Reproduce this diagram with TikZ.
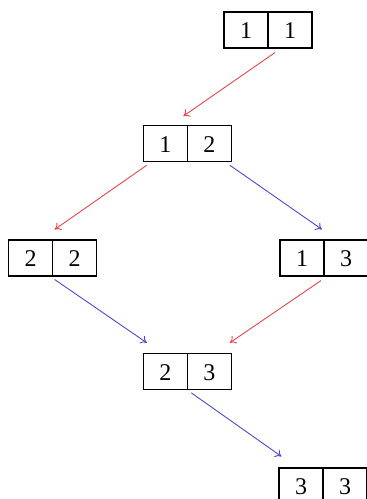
\documentclass[tikz,border=0pt]{standalone}
\usepackage{fontspec}
\setmainfont{Liberation Serif}
\usetikzlibrary{calc,arrows.meta}
\definecolor{myred}{RGB}{225,70,80}
\definecolor{myblue}{RGB}{75,75,205}
\tikzset{
  pairbox/.style={draw, line width=0.55pt, minimum width=44pt, minimum height=18pt, inner sep=0pt,
    path picture={\draw[line width=0.55pt] (path picture bounding box.north) -- (path picture bounding box.south);}},
  cellL/.style={font=\fontsize{12}{14}\selectfont},
  redarr/.style={draw=myred, line width=0.45pt, -{To[length=3pt,width=4.5pt]}},
  bluearr/.style={draw=myblue, line width=0.45pt, -{To[length=3pt,width=4.5pt]}}
}
\newcommand{\pairnode}[4]{%
  \node[pairbox] (#1) at (#2) {};
  \node[cellL] at ($(#1.center)+(-22,1)$) {#3};
  \node[cellL] at ($(#1.center)+(22,1)$) {#4};
}
\begin{document}
\begin{tikzpicture}[x=0.5pt,y=-0.5pt]
\useasboundingbox (0,0) rectangle (366,499);
\pairnode{n11}{268,30}{1}{1}
\pairnode{n12}{187.3,143.7}{1}{2}
\pairnode{n22}{52.7,258}{2}{2}
\pairnode{n13}{324,258}{1}{3}
\pairnode{n23}{187.3,371.3}{2}{3}
\pairnode{n33}{323,486}{3}{3}
\draw[redarr] ($(n11.south)+(7,4)$) -- ($(n12.north)+(-4,-9)$);
\draw[redarr] ($(n12.south west)+(4,3)$) -- ($(n22.north)+(2,-10)$);
\draw[bluearr] ($(n12.south east)+(-2,3)$) -- ($(n13.north)+(-2,-10)$);
\draw[bluearr] ($(n22.south)+(2,3)$) -- ($(n23.north west)+(4,-10)$);
\draw[redarr] ($(n13.south)+(-3,4)$) -- ($(n23.north east)+(-2,-10)$);
\draw[bluearr] ($(n23.south)+(4,3)$) -- ($(n33.north west)+(3,-11)$);
\end{tikzpicture}
\end{document}
